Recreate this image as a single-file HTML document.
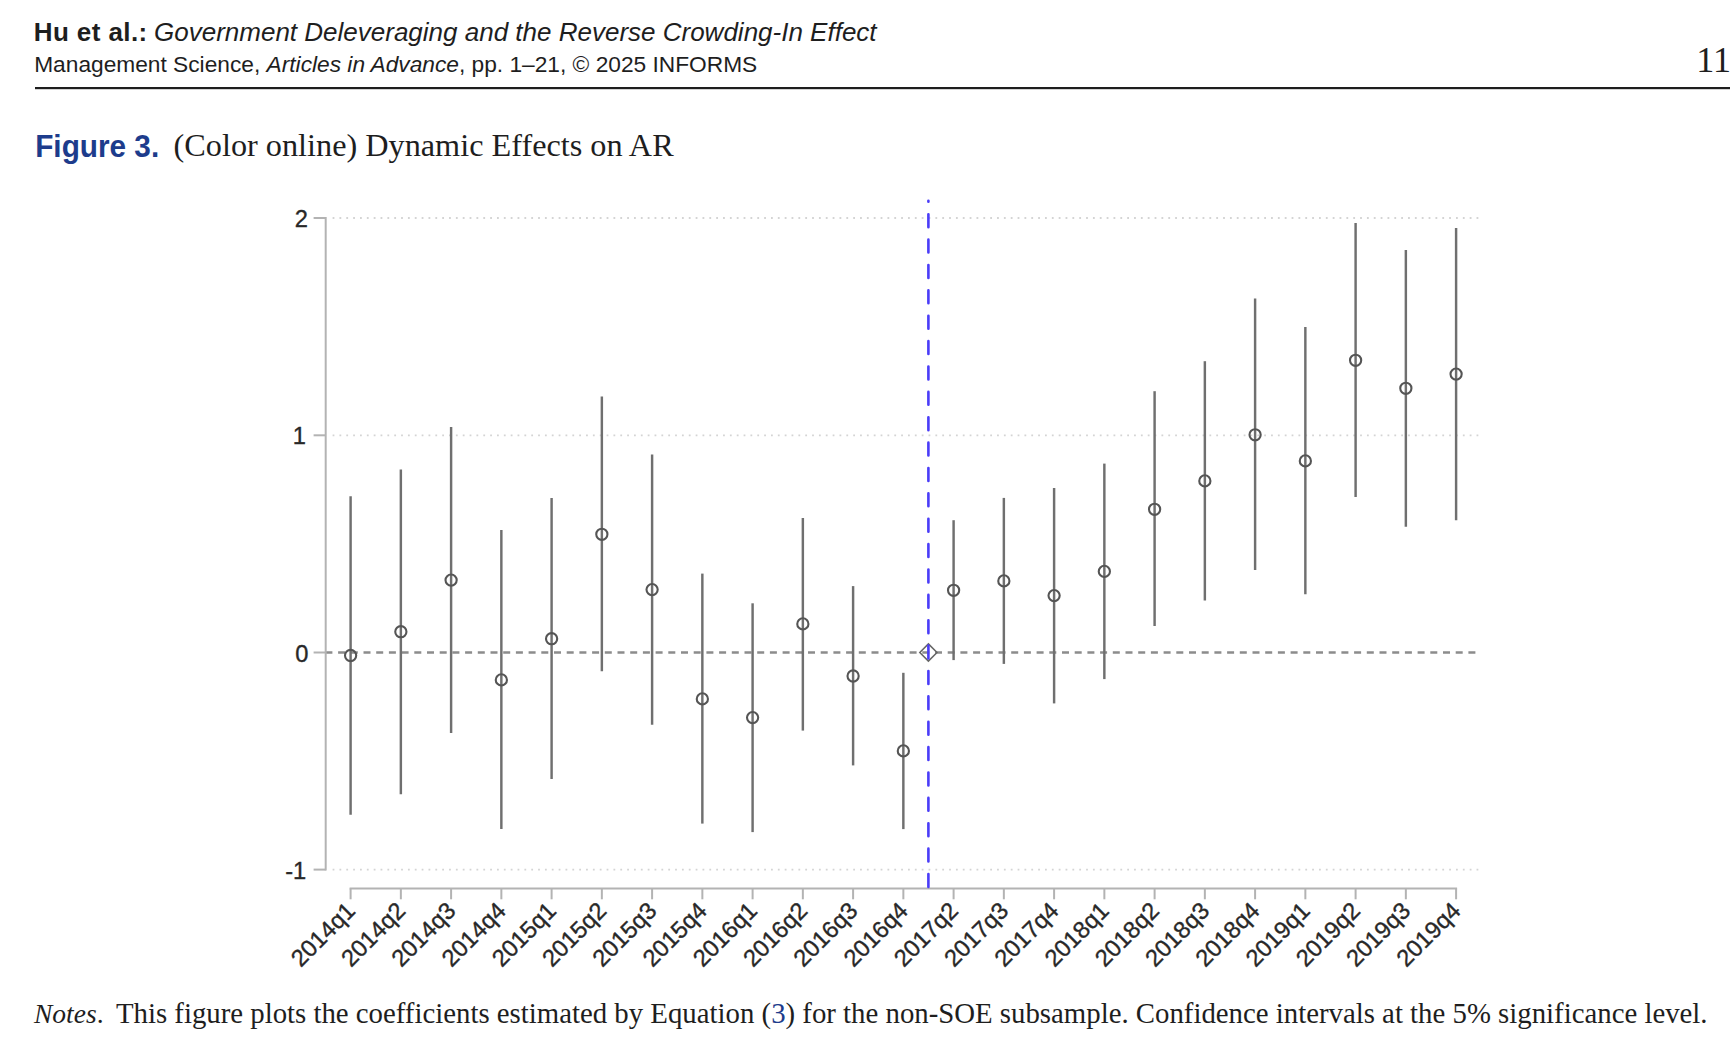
<!DOCTYPE html>
<html><head><meta charset="utf-8"><title>Figure 3</title>
<style>
html,body{margin:0;padding:0;background:#fff;}
body{width:1731px;height:1055px;overflow:hidden;position:relative;}
svg{position:absolute;left:0;top:0;}
</style></head><body>
<svg width="1731" height="1055" viewBox="0 0 1731 1055">
<text x="33.7" y="40.8" font-family="Liberation Sans, Arial, sans-serif" font-size="26" font-weight="bold" fill="#1e1e1e" textLength="113.5" lengthAdjust="spacing">Hu et al.:</text>
<text x="154" y="40.8" font-family="Liberation Sans, Arial, sans-serif" font-size="26" font-style="italic" fill="#1e1e1e">Government Deleveraging and the Reverse Crowding-In Effect</text>
<text x="34.2" y="71.5" font-family="Liberation Sans, Arial, sans-serif" font-size="22.72" fill="#1e1e1e">Management Science, <tspan font-style="italic">Articles in Advance</tspan>, pp. 1–21, © 2025 INFORMS</text>
<text x="1731" y="71.8" text-anchor="end" font-family="Liberation Serif, serif" font-size="36" fill="#1e1e1e">11</text>
<rect x="35" y="87" width="1695" height="2.2" fill="#1e1e1e"/>
<text x="35.2" y="156.6" font-family="Liberation Sans, Arial, sans-serif" font-weight="bold" font-size="32" fill="#1d3c8c" textLength="124" lengthAdjust="spacingAndGlyphs">Figure 3.</text>
<text x="173.6" y="156.4" font-family="Liberation Serif, serif" font-size="32.25" fill="#1e1e1e">(Color online) Dynamic Effects on AR</text>
<line x1="332.6" y1="218.0" x2="1480" y2="218.0" stroke="#d4d4d4" stroke-width="1.8" stroke-dasharray="1.8 5.05" />
<line x1="332.6" y1="435.3" x2="1480" y2="435.3" stroke="#d4d4d4" stroke-width="1.8" stroke-dasharray="1.8 5.05" />
<line x1="332.6" y1="869.6" x2="1480" y2="869.6" stroke="#d4d4d4" stroke-width="1.8" stroke-dasharray="1.8 5.05" />
<line x1="325.4" y1="652.5" x2="1479" y2="652.5" stroke="#8c8c8c" stroke-width="2.3" stroke-dasharray="7 5.7" />
<line x1="325.7" y1="217.0" x2="325.7" y2="870.6" stroke="#b3b3b3" stroke-width="2" />
<line x1="313.6" y1="218.0" x2="325.7" y2="218.0" stroke="#b3b3b3" stroke-width="2" />
<line x1="313.6" y1="435.3" x2="325.7" y2="435.3" stroke="#b3b3b3" stroke-width="2" />
<line x1="313.6" y1="652.5" x2="325.7" y2="652.5" stroke="#b3b3b3" stroke-width="2" />
<line x1="313.6" y1="869.6" x2="325.7" y2="869.6" stroke="#b3b3b3" stroke-width="2" />
<text x="308" y="227.0" text-anchor="end" font-family="Liberation Sans, Arial, sans-serif" font-size="23.7" fill="#282828" stroke="#282828" stroke-width="0.35">2</text>
<text x="306" y="444.3" text-anchor="end" font-family="Liberation Sans, Arial, sans-serif" font-size="23.7" fill="#282828" stroke="#282828" stroke-width="0.35">1</text>
<text x="308.5" y="661.5" text-anchor="end" font-family="Liberation Sans, Arial, sans-serif" font-size="23.7" fill="#282828" stroke="#282828" stroke-width="0.35">0</text>
<text x="306.3" y="878.6" text-anchor="end" font-family="Liberation Sans, Arial, sans-serif" font-size="23.7" fill="#282828" stroke="#282828" stroke-width="0.35">-1</text>
<line x1="349.6" y1="888.5" x2="1457.1" y2="888.5" stroke="#b3b3b3" stroke-width="2" />
<line x1="350.60" y1="888.5" x2="350.60" y2="899.3" stroke="#b3b3b3" stroke-width="2" />
<line x1="400.85" y1="888.5" x2="400.85" y2="899.3" stroke="#b3b3b3" stroke-width="2" />
<line x1="451.10" y1="888.5" x2="451.10" y2="899.3" stroke="#b3b3b3" stroke-width="2" />
<line x1="501.35" y1="888.5" x2="501.35" y2="899.3" stroke="#b3b3b3" stroke-width="2" />
<line x1="551.60" y1="888.5" x2="551.60" y2="899.3" stroke="#b3b3b3" stroke-width="2" />
<line x1="601.85" y1="888.5" x2="601.85" y2="899.3" stroke="#b3b3b3" stroke-width="2" />
<line x1="652.10" y1="888.5" x2="652.10" y2="899.3" stroke="#b3b3b3" stroke-width="2" />
<line x1="702.35" y1="888.5" x2="702.35" y2="899.3" stroke="#b3b3b3" stroke-width="2" />
<line x1="752.60" y1="888.5" x2="752.60" y2="899.3" stroke="#b3b3b3" stroke-width="2" />
<line x1="802.85" y1="888.5" x2="802.85" y2="899.3" stroke="#b3b3b3" stroke-width="2" />
<line x1="853.10" y1="888.5" x2="853.10" y2="899.3" stroke="#b3b3b3" stroke-width="2" />
<line x1="903.35" y1="888.5" x2="903.35" y2="899.3" stroke="#b3b3b3" stroke-width="2" />
<line x1="953.60" y1="888.5" x2="953.60" y2="899.3" stroke="#b3b3b3" stroke-width="2" />
<line x1="1003.85" y1="888.5" x2="1003.85" y2="899.3" stroke="#b3b3b3" stroke-width="2" />
<line x1="1054.10" y1="888.5" x2="1054.10" y2="899.3" stroke="#b3b3b3" stroke-width="2" />
<line x1="1104.35" y1="888.5" x2="1104.35" y2="899.3" stroke="#b3b3b3" stroke-width="2" />
<line x1="1154.60" y1="888.5" x2="1154.60" y2="899.3" stroke="#b3b3b3" stroke-width="2" />
<line x1="1204.85" y1="888.5" x2="1204.85" y2="899.3" stroke="#b3b3b3" stroke-width="2" />
<line x1="1255.10" y1="888.5" x2="1255.10" y2="899.3" stroke="#b3b3b3" stroke-width="2" />
<line x1="1305.35" y1="888.5" x2="1305.35" y2="899.3" stroke="#b3b3b3" stroke-width="2" />
<line x1="1355.60" y1="888.5" x2="1355.60" y2="899.3" stroke="#b3b3b3" stroke-width="2" />
<line x1="1405.85" y1="888.5" x2="1405.85" y2="899.3" stroke="#b3b3b3" stroke-width="2" />
<line x1="1456.10" y1="888.5" x2="1456.10" y2="899.3" stroke="#b3b3b3" stroke-width="2" />
<text transform="translate(356.60 912.2) rotate(-45)" text-anchor="end" font-family="Liberation Sans, Arial, sans-serif" font-size="23.7" fill="#282828" stroke="#282828" stroke-width="0.35">2014q1</text>
<text transform="translate(406.85 912.2) rotate(-45)" text-anchor="end" font-family="Liberation Sans, Arial, sans-serif" font-size="23.7" fill="#282828" stroke="#282828" stroke-width="0.35">2014q2</text>
<text transform="translate(457.10 912.2) rotate(-45)" text-anchor="end" font-family="Liberation Sans, Arial, sans-serif" font-size="23.7" fill="#282828" stroke="#282828" stroke-width="0.35">2014q3</text>
<text transform="translate(507.35 912.2) rotate(-45)" text-anchor="end" font-family="Liberation Sans, Arial, sans-serif" font-size="23.7" fill="#282828" stroke="#282828" stroke-width="0.35">2014q4</text>
<text transform="translate(557.60 912.2) rotate(-45)" text-anchor="end" font-family="Liberation Sans, Arial, sans-serif" font-size="23.7" fill="#282828" stroke="#282828" stroke-width="0.35">2015q1</text>
<text transform="translate(607.85 912.2) rotate(-45)" text-anchor="end" font-family="Liberation Sans, Arial, sans-serif" font-size="23.7" fill="#282828" stroke="#282828" stroke-width="0.35">2015q2</text>
<text transform="translate(658.10 912.2) rotate(-45)" text-anchor="end" font-family="Liberation Sans, Arial, sans-serif" font-size="23.7" fill="#282828" stroke="#282828" stroke-width="0.35">2015q3</text>
<text transform="translate(708.35 912.2) rotate(-45)" text-anchor="end" font-family="Liberation Sans, Arial, sans-serif" font-size="23.7" fill="#282828" stroke="#282828" stroke-width="0.35">2015q4</text>
<text transform="translate(758.60 912.2) rotate(-45)" text-anchor="end" font-family="Liberation Sans, Arial, sans-serif" font-size="23.7" fill="#282828" stroke="#282828" stroke-width="0.35">2016q1</text>
<text transform="translate(808.85 912.2) rotate(-45)" text-anchor="end" font-family="Liberation Sans, Arial, sans-serif" font-size="23.7" fill="#282828" stroke="#282828" stroke-width="0.35">2016q2</text>
<text transform="translate(859.10 912.2) rotate(-45)" text-anchor="end" font-family="Liberation Sans, Arial, sans-serif" font-size="23.7" fill="#282828" stroke="#282828" stroke-width="0.35">2016q3</text>
<text transform="translate(909.35 912.2) rotate(-45)" text-anchor="end" font-family="Liberation Sans, Arial, sans-serif" font-size="23.7" fill="#282828" stroke="#282828" stroke-width="0.35">2016q4</text>
<text transform="translate(959.60 912.2) rotate(-45)" text-anchor="end" font-family="Liberation Sans, Arial, sans-serif" font-size="23.7" fill="#282828" stroke="#282828" stroke-width="0.35">2017q2</text>
<text transform="translate(1009.85 912.2) rotate(-45)" text-anchor="end" font-family="Liberation Sans, Arial, sans-serif" font-size="23.7" fill="#282828" stroke="#282828" stroke-width="0.35">2017q3</text>
<text transform="translate(1060.10 912.2) rotate(-45)" text-anchor="end" font-family="Liberation Sans, Arial, sans-serif" font-size="23.7" fill="#282828" stroke="#282828" stroke-width="0.35">2017q4</text>
<text transform="translate(1110.35 912.2) rotate(-45)" text-anchor="end" font-family="Liberation Sans, Arial, sans-serif" font-size="23.7" fill="#282828" stroke="#282828" stroke-width="0.35">2018q1</text>
<text transform="translate(1160.60 912.2) rotate(-45)" text-anchor="end" font-family="Liberation Sans, Arial, sans-serif" font-size="23.7" fill="#282828" stroke="#282828" stroke-width="0.35">2018q2</text>
<text transform="translate(1210.85 912.2) rotate(-45)" text-anchor="end" font-family="Liberation Sans, Arial, sans-serif" font-size="23.7" fill="#282828" stroke="#282828" stroke-width="0.35">2018q3</text>
<text transform="translate(1261.10 912.2) rotate(-45)" text-anchor="end" font-family="Liberation Sans, Arial, sans-serif" font-size="23.7" fill="#282828" stroke="#282828" stroke-width="0.35">2018q4</text>
<text transform="translate(1311.35 912.2) rotate(-45)" text-anchor="end" font-family="Liberation Sans, Arial, sans-serif" font-size="23.7" fill="#282828" stroke="#282828" stroke-width="0.35">2019q1</text>
<text transform="translate(1361.60 912.2) rotate(-45)" text-anchor="end" font-family="Liberation Sans, Arial, sans-serif" font-size="23.7" fill="#282828" stroke="#282828" stroke-width="0.35">2019q2</text>
<text transform="translate(1411.85 912.2) rotate(-45)" text-anchor="end" font-family="Liberation Sans, Arial, sans-serif" font-size="23.7" fill="#282828" stroke="#282828" stroke-width="0.35">2019q3</text>
<text transform="translate(1462.10 912.2) rotate(-45)" text-anchor="end" font-family="Liberation Sans, Arial, sans-serif" font-size="23.7" fill="#282828" stroke="#282828" stroke-width="0.35">2019q4</text>
<line x1="350.60" y1="496.3" x2="350.60" y2="814.8" stroke="#6f6f6f" stroke-width="2.45" />
<line x1="400.85" y1="469.6" x2="400.85" y2="794.2" stroke="#6f6f6f" stroke-width="2.45" />
<line x1="451.10" y1="426.9" x2="451.10" y2="732.9" stroke="#6f6f6f" stroke-width="2.45" />
<line x1="501.35" y1="530.0" x2="501.35" y2="828.9" stroke="#6f6f6f" stroke-width="2.45" />
<line x1="551.60" y1="497.9" x2="551.60" y2="779.0" stroke="#6f6f6f" stroke-width="2.45" />
<line x1="601.85" y1="396.6" x2="601.85" y2="671.2" stroke="#6f6f6f" stroke-width="2.45" />
<line x1="652.10" y1="454.4" x2="652.10" y2="724.8" stroke="#6f6f6f" stroke-width="2.45" />
<line x1="702.35" y1="573.6" x2="702.35" y2="823.6" stroke="#6f6f6f" stroke-width="2.45" />
<line x1="752.60" y1="603.3" x2="752.60" y2="832.1" stroke="#6f6f6f" stroke-width="2.45" />
<line x1="802.85" y1="518.0" x2="802.85" y2="730.6" stroke="#6f6f6f" stroke-width="2.45" />
<line x1="853.10" y1="586.1" x2="853.10" y2="765.4" stroke="#6f6f6f" stroke-width="2.45" />
<line x1="903.35" y1="672.8" x2="903.35" y2="829.1" stroke="#6f6f6f" stroke-width="2.45" />
<line x1="953.60" y1="520.2" x2="953.60" y2="660.1" stroke="#6f6f6f" stroke-width="2.45" />
<line x1="1003.85" y1="497.9" x2="1003.85" y2="663.9" stroke="#6f6f6f" stroke-width="2.45" />
<line x1="1054.10" y1="488.0" x2="1054.10" y2="703.4" stroke="#6f6f6f" stroke-width="2.45" />
<line x1="1104.35" y1="463.6" x2="1104.35" y2="679.1" stroke="#6f6f6f" stroke-width="2.45" />
<line x1="1154.60" y1="391.2" x2="1154.60" y2="626.0" stroke="#6f6f6f" stroke-width="2.45" />
<line x1="1204.85" y1="361.2" x2="1204.85" y2="600.5" stroke="#6f6f6f" stroke-width="2.45" />
<line x1="1255.10" y1="298.6" x2="1255.10" y2="569.9" stroke="#6f6f6f" stroke-width="2.45" />
<line x1="1305.35" y1="327.1" x2="1305.35" y2="594.3" stroke="#6f6f6f" stroke-width="2.45" />
<line x1="1355.60" y1="223.1" x2="1355.60" y2="496.9" stroke="#6f6f6f" stroke-width="2.45" />
<line x1="1405.85" y1="249.9" x2="1405.85" y2="526.7" stroke="#6f6f6f" stroke-width="2.45" />
<line x1="1456.10" y1="228.1" x2="1456.10" y2="520.3" stroke="#6f6f6f" stroke-width="2.45" />
<circle cx="350.60" cy="655.5" r="5.6" fill="none" stroke="#555" stroke-width="2.1" />
<circle cx="400.85" cy="631.7" r="5.6" fill="none" stroke="#555" stroke-width="2.1" />
<circle cx="451.10" cy="580.1" r="5.6" fill="none" stroke="#555" stroke-width="2.1" />
<circle cx="501.35" cy="679.9" r="5.6" fill="none" stroke="#555" stroke-width="2.1" />
<circle cx="551.60" cy="638.7" r="5.6" fill="none" stroke="#555" stroke-width="2.1" />
<circle cx="601.85" cy="534.3" r="5.6" fill="none" stroke="#555" stroke-width="2.1" />
<circle cx="652.10" cy="589.6" r="5.6" fill="none" stroke="#555" stroke-width="2.1" />
<circle cx="702.35" cy="698.9" r="5.6" fill="none" stroke="#555" stroke-width="2.1" />
<circle cx="752.60" cy="717.6" r="5.6" fill="none" stroke="#555" stroke-width="2.1" />
<circle cx="802.85" cy="623.9" r="5.6" fill="none" stroke="#555" stroke-width="2.1" />
<circle cx="853.10" cy="676.0" r="5.6" fill="none" stroke="#555" stroke-width="2.1" />
<circle cx="903.35" cy="750.9" r="5.6" fill="none" stroke="#555" stroke-width="2.1" />
<circle cx="953.60" cy="590.3" r="5.6" fill="none" stroke="#555" stroke-width="2.1" />
<circle cx="1003.85" cy="580.9" r="5.6" fill="none" stroke="#555" stroke-width="2.1" />
<circle cx="1054.10" cy="595.6" r="5.6" fill="none" stroke="#555" stroke-width="2.1" />
<circle cx="1104.35" cy="571.4" r="5.6" fill="none" stroke="#555" stroke-width="2.1" />
<circle cx="1154.60" cy="509.3" r="5.6" fill="none" stroke="#555" stroke-width="2.1" />
<circle cx="1204.85" cy="480.9" r="5.6" fill="none" stroke="#555" stroke-width="2.1" />
<circle cx="1255.10" cy="434.8" r="5.6" fill="none" stroke="#555" stroke-width="2.1" />
<circle cx="1305.35" cy="460.9" r="5.6" fill="none" stroke="#555" stroke-width="2.1" />
<circle cx="1355.60" cy="360.3" r="5.6" fill="none" stroke="#555" stroke-width="2.1" />
<circle cx="1405.85" cy="388.3" r="5.6" fill="none" stroke="#555" stroke-width="2.1" />
<circle cx="1456.10" cy="374.1" r="5.6" fill="none" stroke="#555" stroke-width="2.1" />
<polygon points="928.4,643.9 937.0,652.5 928.4,661.1 919.8,652.5" fill="none" stroke="#666" stroke-width="1.5" />
<line x1="928.4" y1="886.9" x2="928.4" y2="200.8" stroke="#4a3cf8" stroke-width="2.6" stroke-linecap="round" stroke-dasharray="12.9 12.475" />
<text x="34" y="1023.2" font-family="Liberation Serif, serif" font-size="27.5" fill="#1e1e1e"><tspan font-style="italic">Notes</tspan>.</text>
<text x="115.9" y="1023.2" font-family="Liberation Serif, serif" font-size="28.8" fill="#1e1e1e">This figure plots the coefficients estimated by Equation (<tspan fill="#1d3c8c">3</tspan>) for the non-SOE subsample. Confidence intervals at the 5% significance level.</text>
</svg>
</body></html>
